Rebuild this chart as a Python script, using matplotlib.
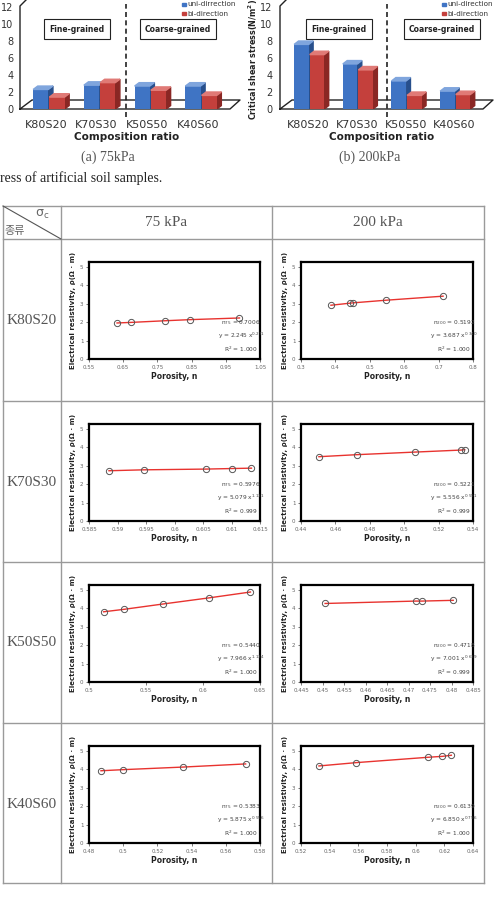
import numpy as np
import matplotlib.pyplot as plt

W, H = 495, 898

# ---- data -------------------------------------------------------------
compositions = ["K80S20", "K70S30", "K50S50", "K40S60"]
uni_75 = [2.3, 2.8, 2.7, 2.7]
bi_75 = [1.4, 3.1, 2.2, 1.6]
uni_200 = [7.6, 5.3, 3.3, 2.1]
bi_200 = [6.4, 4.6, 1.6, 1.7]

# porosity n vs electrical resistivity rho, one list per soil (rows)
n_75 = [
    [0.632, 0.672, 0.772, 0.845, 0.990],
    [0.5885, 0.5946, 0.6055, 0.6101, 0.6135],
    [0.5128, 0.5303, 0.5647, 0.6049, 0.6416],
    [0.487, 0.500, 0.535, 0.5716],
]
rho_75 = [
    [1.95, 1.98, 2.07, 2.13, 2.22],
    [2.72, 2.77, 2.81, 2.84, 2.86],
    [3.80, 3.93, 4.22, 4.55, 4.87],
    [3.91, 3.97, 4.11, 4.28],
]
n_200 = [
    [0.387, 0.442, 0.452, 0.546, 0.713],
    [0.4504, 0.4725, 0.5062, 0.5332, 0.5352],
    [0.4506, 0.4717, 0.4732, 0.4804],
    [0.5325, 0.5585, 0.6087, 0.6187, 0.6249],
]
rho_200 = [
    [2.91, 3.02, 3.04, 3.18, 3.40],
    [3.48, 3.59, 3.73, 3.84, 3.86],
    [4.25, 4.38, 4.38, 4.42],
    [4.17, 4.35, 4.64, 4.69, 4.75],
]
xticks_75 = [
    [0.55, 0.65, 0.75, 0.85, 0.95, 1.05],
    [0.585, 0.59, 0.595, 0.6, 0.605, 0.61, 0.615],
    [0.5, 0.55, 0.6, 0.65],
    [0.48, 0.5, 0.52, 0.54, 0.56, 0.58],
]
xticks_200 = [
    [0.3, 0.4, 0.5, 0.6, 0.7, 0.8],
    [0.44, 0.46, 0.48, 0.5, 0.52, 0.54],
    [0.445, 0.45, 0.455, 0.46, 0.465, 0.47, 0.475, 0.48, 0.485],
    [0.52, 0.54, 0.56, 0.58, 0.6, 0.62, 0.64],
]
# (n at reference, coefficient, exponent, R2)
fit_75 = [("0.7006", "2.245", "0.271", "1.000"),
          ("0.5976", "5.079", "1.131", "0.999"),
          ("0.5440", "7.966", "1.134", "1.000"),
          ("0.5383", "5.875", "0.556", "1.000")]
fit_200 = [("0.5192", "3.687", "0.340", "1.000"),
           ("0.5221", "5.556", "0.591", "0.999"),
           ("0.4718", "7.001", "0.639", "0.999"),
           ("0.6139", "6.850", "0.796", "1.000")]

plt.rcParams['mathtext.default'] = 'regular'
fig = plt.figure(figsize=(W / 100, H / 100), dpi=100)

# overlay in pixel coordinates for page decorations
ov = fig.add_axes([0, 0, 1, 1])
ov.set_xlim(0, W)
ov.set_ylim(H, 0)
ov.axis('off')


def px_axes(x0, y0, x1, y1):
    return fig.add_axes([x0 / W, 1 - y1 / H, (x1 - x0) / W, (y1 - y0) / H])


BLUE = ("#3f74c4", "#274f8c", "#7fa5dd")
RED = ("#c4403c", "#8a2724", "#e07a76")


def bars3d(ax, xs, hs, w, cols):
    front, side, top = cols
    dx, dy = 0.09, 0.4
    ax.bar(xs, hs, w, color=front, zorder=3)
    for x, h in zip(xs, hs):
        r = x + w / 2
        l = x - w / 2
        ax.fill([r, r + dx, r + dx, r], [0, dy, h + dy, h], color=side, zorder=2)
        ax.fill([l, l + dx, r + dx, r], [h, h + dy, h + dy, h], color=top, zorder=3)


def bar_panel(x0, x1, xlim, off_u, off_b, uni, bi, dash):
    ax = px_axes(x0, 7, x1, 109)
    pos = np.arange(len(compositions))
    bars3d(ax, pos + off_u, uni, 0.3, BLUE)
    bars3d(ax, pos + off_b, bi, 0.3, RED)
    ax.plot([dash, dash], [-0.9, 12.3], ls=(0, (3, 2)), color='#222', lw=1.2,
            clip_on=False, zorder=4)
    ax.set_xlim(xlim)
    ax.set_ylim(0, 12)
    ax.set_yticks(range(0, 13, 2))
    ax.set_xticks(pos)
    ax.set_xticklabels(compositions, fontsize=8, color='#333')
    ax.tick_params(axis='x', length=0, pad=8)
    ax.tick_params(axis='y', length=0, pad=6, labelsize=7, labelcolor='#333')
    for s in ax.spines.values():
        s.set_visible(False)
    ax.patch.set_alpha(0)
    ax.set_xlabel("Composition ratio", fontsize=7.5, fontweight='bold', labelpad=1,
                  color='#222')
    return ax


bar_panel(22, 232, (-0.47, 3.67), -0.1, 0.22, uni_75, bi_75, 1.59)
bar_panel(281, 483, (-0.56, 3.59), -0.14, 0.18, uni_200, bi_200, 1.62)
ov.text(253, 59, "Critical shear stress(N/m$^2$)", fontsize=5.8, fontweight='bold',
        rotation=90, ha='center', va='center', color='#222')

# 3D frame of the bar panels
for fx, bx, rx in [(20, 32, 230), (280, 292, 483)]:
    ov.plot([fx, rx, rx + 10, bx, fx], [109, 109, 100, 100, 109], color='#222', lw=1)
    ov.plot([fx, fx, fx + 6], [109, 6, 0], color='#222', lw=1)

# legends and region boxes
for lx, lab in [(182, "uni-dirrection"), (442, "uni-direction")]:
    ov.add_patch(plt.Rectangle((lx, 2.5), 3.5, 3.5, color=BLUE[0]))
    ov.text(lx + 5.5, 4.5, lab, fontsize=5.2, va='center', color='#333')
    ov.add_patch(plt.Rectangle((lx, 11.5), 3.5, 3.5, color=RED[0]))
    ov.text(lx + 5.5, 13.5, "bi-direction", fontsize=5.2, va='center', color='#333')
for cx, lab in [(77, "Fine-grained"), (178, "Coarse-grained"),
                (339, "Fine-grained"), (442, "Coarse-grained")]:
    ov.text(cx, 29, lab, fontsize=5.5, fontweight='bold', ha='center', va='center',
            color='#222', bbox=dict(boxstyle='square,pad=0.7', fc='white',
                                    ec='#222', lw=0.8))

serif = ['Liberation Serif', 'DejaVu Serif']
ov.text(108, 157, "(a) 75kPa", fontsize=10, family=serif, ha='center',
        va='center', color='#555')
ov.text(370, 157, "(b) 200kPa", fontsize=10, family=serif, ha='center',
        va='center', color='#555')
ov.text(0, 178, "ress of artificial soil samples.", fontsize=10, family=serif,
        va='center', color='#222')

# ---- table ------------------------------------------------------------
row_tops = [239, 401, 562, 723]
table_top, table_bot = 206, 883
tx0, tx1, c1, c2 = 3, 484, 61, 272
lc = '#9a9a9a'
for y in [table_top] + row_tops + [table_bot]:
    ov.plot([tx0, tx1], [y, y], color=lc, lw=1)
for x in [tx0, c1, c2, tx1]:
    ov.plot([x, x], [table_top, table_bot], color=lc, lw=1)
ov.plot([tx0, c1], [table_top, 239], color='#555', lw=0.8)
ov.text(42, 214, r"$\sigma_c$", fontsize=9, ha='center', va='center', color='#666')
ov.text(15, 231, "종류", fontsize=8, ha='center', va='center', color='#666',
        family=['Noto Sans CJK KR', 'DejaVu Sans'])
ov.text((c1 + c2) / 2, 222, "75 kPa", fontsize=11, family=serif, ha='center',
        va='center', color='#555')
ov.text((c2 + tx1) / 2, 222, "200 kPa", fontsize=11, family=serif, ha='center',
        va='center', color='#555')


def small_plot(x0, x1, top, ns, rhos, ticks, fit, sub):
    ax = px_axes(x0, top + 23, x1, top + 120)
    ax.plot(ns, rhos, color='#e8332f', lw=1, marker='o', ms=4.5, mfc='none',
            mec='#555', mew=0.7, zorder=3)
    ax.set_xlim(ticks[0], ticks[-1])
    ax.set_ylim(0, 5.25)
    ax.set_yticks(range(6))
    ax.set_xticks(ticks)
    ax.set_xticklabels([f"{t:g}" for t in ticks])
    ax.tick_params(labelsize=4, labelcolor='#666', length=2, width=0.5,
                   color='#444', pad=2)
    for s in ax.spines.values():
        s.set_linewidth(1.6)
    ax.set_xlabel("Porosity, n", fontsize=5.5, fontweight='bold', labelpad=2,
                  color='#222')
    ax.set_ylabel("Electrical resistivity, ρ(Ω · m)", fontsize=5, fontweight='bold',
                  labelpad=3, color='#222')
    n0, a, b, r2 = fit
    txt = (f"$n_{{{sub}}}$ = {n0}\ny = {a} x$^{{{b}}}$\nR$^2$ = {r2}")
    ax.text(0.89, 0.05, txt, transform=ax.transAxes, fontsize=4.2, ha='center',
            va='bottom', color='#444', linespacing=1.5)
    return ax


for i, top in enumerate(row_tops):
    ov.text(32, top + 81, compositions[i], fontsize=11, family=serif,
            ha='center', va='center', color='#555')
    small_plot(89, 260, top, n_75[i], rho_75[i], xticks_75[i], fit_75[i], "75")
    small_plot(301, 473, top, n_200[i], rho_200[i], xticks_200[i], fit_200[i], "200")

fig.savefig("out.png", dpi=100)
